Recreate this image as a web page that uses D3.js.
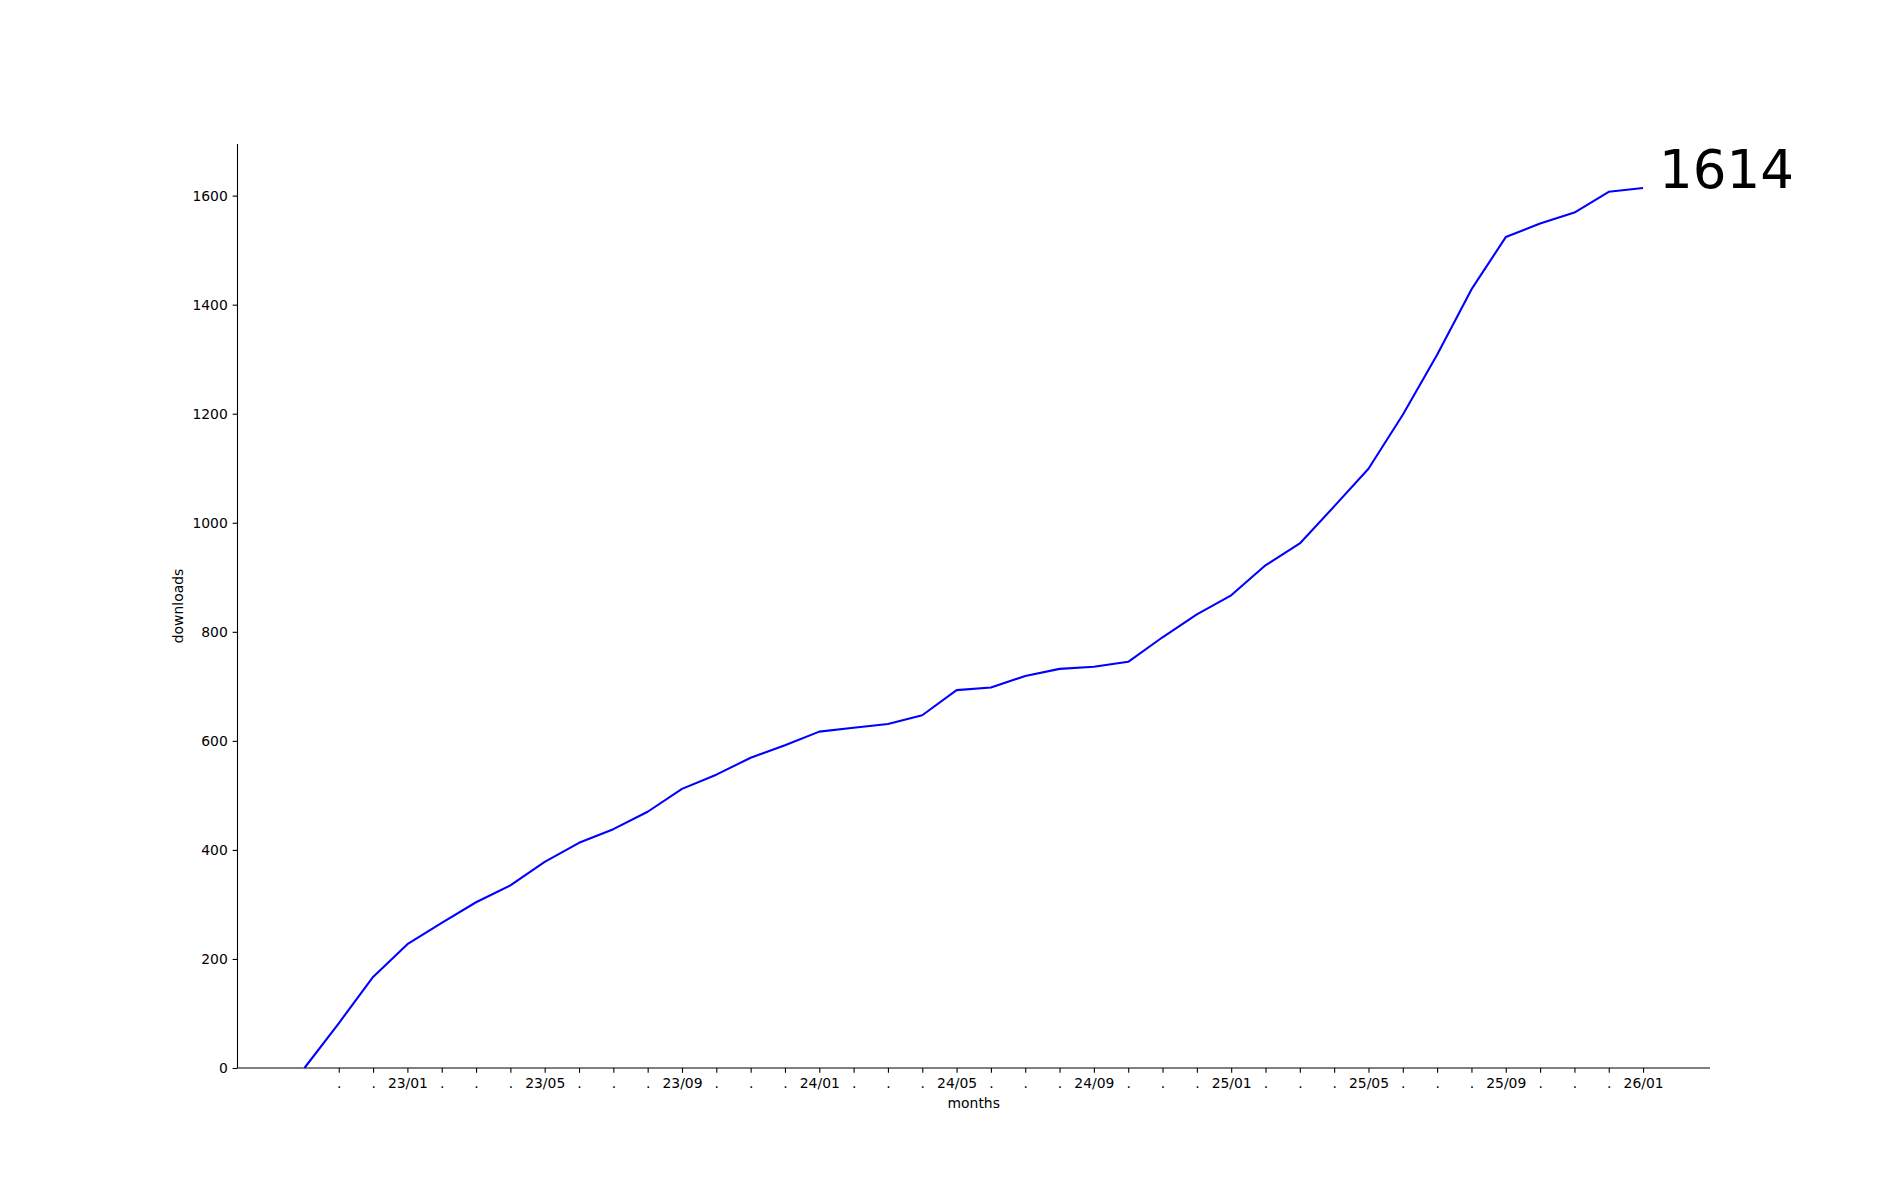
<!DOCTYPE html>
<html>
<head>
<meta charset="utf-8">
<script src="https://cdn.jsdelivr.net/npm/d3@7"></script>
<style>
  html, body { margin: 0; padding: 0; background: #ffffff; }
  svg { display: block; }
  text { font-family: "DejaVu Sans", sans-serif; fill: #000; }
</style>
</head>
<body>
<script>
// ---- data ----
const months = ["22/10","22/11","22/12",
  "23/01","23/02","23/03","23/04","23/05","23/06","23/07","23/08","23/09","23/10","23/11","23/12",
  "24/01","24/02","24/03","24/04","24/05","24/06","24/07","24/08","24/09","24/10","24/11","24/12",
  "25/01","25/02","25/03","25/04","25/05","25/06","25/07","25/08","25/09","25/10","25/11","25/12",
  "26/01"];
const downloads = [0, 82, 167, 227, 266, 304, 335, 378, 413, 438, 470,
  512, 538, 569, 592, 617, 624, 631, 647, 693, 698,
  719, 732, 736, 745, 790, 832, 867, 922, 962, 1030,
  1099, 1198, 1308, 1428, 1524, 1549, 1569, 1607, 1614];
const tickLabels = [".", ".", "23/01", ".", ".", ".", "23/05", ".", ".", ".", "23/09", ".", ".", ".",
  "24/01", ".", ".", ".", "24/05", ".", ".", ".", "24/09", ".", ".", ".",
  "25/01", ".", ".", ".", "25/05", ".", ".", ".", "25/09", ".", ".", ".", "26/01"];
const yTicks = [0, 200, 400, 600, 800, 1000, 1200, 1400, 1600];
const xTitle = "months";
const yTitle = "downloads";

// ---- layout ----
const W = 1900, H = 1200;
const mLeft = 237.5, mRight = 1710, mTop = 144, mBottom = 1068;
const n = downloads.length;
const xPad = (n - 1) * 0.05;
const yMax = d3.max(downloads);

const svg = d3.select("body").append("svg")
  .attr("width", W).attr("height", H)
  .attr("viewBox", `0 0 ${W} ${H}`);
svg.append("rect").attr("width", W).attr("height", H).attr("fill", "#fff");

const x = d3.scaleLinear().domain([-xPad, n - 1 + xPad]).range([mLeft, mRight]);
const y = d3.scaleLinear().domain([0, yMax * 1.05]).range([mBottom, mTop]);

const fontPx = 13.9, tickLen = 4.86, tickPad = 4.86;

// x axis (ticks at indices 1..n-1)
const tickIdx = d3.range(1, n);
const xAxis = d3.axisBottom(x)
  .tickValues(tickIdx)
  .tickFormat((d) => tickLabels[d - 1])
  .tickSizeInner(tickLen).tickSizeOuter(0).tickPadding(tickPad);
const gx = svg.append("g").attr("transform", `translate(0,${mBottom})`).call(xAxis);
gx.select(".domain").attr("stroke", "#000").attr("stroke-width", 1.1)
  .attr("d", `M${mLeft},0H${mRight}`);
gx.selectAll(".tick line").attr("stroke", "#000").attr("stroke-width", 1.1);
gx.selectAll(".tick text").attr("font-size", fontPx).attr("font-family", "DejaVu Sans").attr("fill", "#000");

// y axis
const yAxis = d3.axisLeft(y)
  .tickValues(yTicks)
  .tickFormat(d3.format("d"))
  .tickSizeInner(tickLen).tickSizeOuter(0).tickPadding(tickPad);
const gy = svg.append("g").attr("transform", `translate(${mLeft},0)`).call(yAxis);
gy.select(".domain").attr("stroke", "#000").attr("stroke-width", 1.1)
  .attr("d", `M0,${mBottom}V${mTop}`);
gy.selectAll(".tick line").attr("stroke", "#000").attr("stroke-width", 1.1);
gy.selectAll(".tick text").attr("font-size", fontPx).attr("font-family", "DejaVu Sans").attr("fill", "#000");

// axis titles
svg.append("text")
  .attr("x", (mLeft + mRight) / 2).attr("y", 1107.5)
  .attr("text-anchor", "middle").attr("font-size", fontPx)
  .text(xTitle);
svg.append("text")
  .attr("transform", `translate(183.3,${(mTop + mBottom) / 2}) rotate(-90)`)
  .attr("text-anchor", "middle").attr("font-size", fontPx)
  .text(yTitle);

// line
const line = d3.line().x((d, i) => x(i)).y((d) => y(d));
svg.append("path").datum(downloads)
  .attr("fill", "none").attr("stroke", "#0000ff").attr("stroke-width", 2.08)
  .attr("stroke-linejoin", "round").attr("stroke-linecap", "butt")
  .attr("d", line);

// final value annotation
svg.append("text")
  .attr("x", x(n - 1) + 16).attr("y", y(downloads[n - 1]))
  .attr("font-size", 53)
  .text(String(downloads[n - 1]));
</script>
</body>
</html>
